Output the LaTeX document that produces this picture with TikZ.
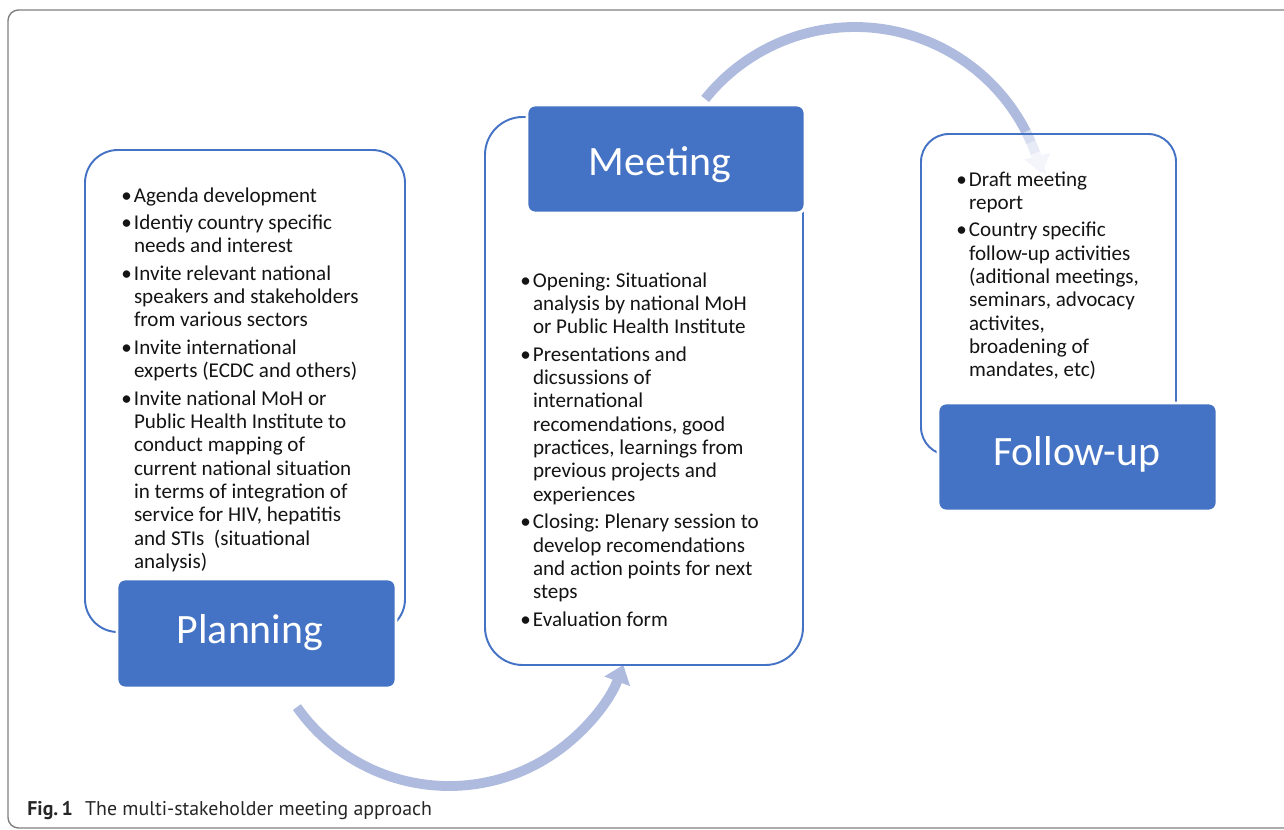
\documentclass[tikz,border=0pt]{standalone}
\usepackage{fontspec}
\setmainfont{Carlito}
\newfontfamily\capfont{PT Sans}
\usepackage{xcolor}
\usetikzlibrary{arrows.meta,fit}

\definecolor{boxblue}{HTML}{4472C4}
\definecolor{flowblue}{HTML}{AEBBDF}
\definecolor{framegray}{HTML}{7F7F7F}

% bullet with a fixed hanging width
\newcommand{\bul}{\makebox[7.2pt][l]{\textbullet}}
\frenchspacing

\begin{document}
\begin{tikzpicture}[x=0.02cm, y=-0.02cm,
    every node/.style={inner sep=0pt},
    stagebox/.style={draw=boxblue, line width=1.1pt},
    stagehead/.style={fill=boxblue, draw=white, line width=1.6pt, rounded corners=4.5pt},
    headtext/.style={anchor=base, text=white, font=\fontsize{23.8}{28}\selectfont},
    items/.style={anchor=base west, text=black!92, font=\fontsize{12}{13.3}\selectfont},
    flow/.style={draw=flowblue, line width=5.6pt},
    flowtip/.style={-{Triangle[width=15pt,length=10pt]}},
]
\useasboundingbox (0,0) rectangle (1284,829);

% outer frame
\draw[framegray, line width=0.8pt, rounded corners=6pt] (8,10) rectangle (1310,828);

% curved arrows between the stages
\coordinate (lowc) at (449,600);
\coordinate (topc) at (855,219);
\draw[flow, flowtip] ([shift={(144.85:186)}]lowc) arc[start angle=144.85, end angle=20.4, radius=186];
\draw[flow] ([shift={(-141.3:192)}]topc) arc[start angle=-141.3, end angle=-27, radius=192];
% the last part fades out
\draw[flow, draw=flowblue!50!white] ([shift={(-27:192)}]topc) arc[start angle=-27, end angle=-23.5, radius=192];
\draw[flow, draw=flowblue!30!white] ([shift={(-23.5:192)}]topc) arc[start angle=-23.5, end angle=-20, radius=192];
\draw[flow, flowtip, draw=flowblue!14!white] ([shift={(-20:192)}]topc) arc[start angle=-20, end angle=-13.8, radius=192];

% stage outlines
\node[stagebox, rounded corners=18.7pt, fit={(85,150) (405,632)}] (planbox) {};
\node[stagebox, rounded corners=21.5pt, fit={(485,117) (803,665)}] (meetbox) {};
\node[stagebox, rounded corners=15.9pt, fit={(921,134) (1176,455)}] (follbox) {};

% stage headers
\node[stagehead, fit={(117,579) (396,688)}] (plan) {};
\node[stagehead, fit={(527,105) (805,213)}] (meet) {};
\node[stagehead, fit={(938,403) (1217,511)}] (foll) {};
\node[headtext] (plantitle) at (250,643) {Planning};
\node[headtext] (meettitle) at (660,175) {Meeting};
\node[headtext] (folltitle) at (1077,465) {Follow-up};

% stage contents
\node[items] (plantext) at (121,202) {\begin{tabular}[t]{@{}l@{}l@{}}
\bul & Agenda development\\[2.3pt]
\bul & Identiy country specific\\
     & needs and interest\\[2.3pt]
\bul & Invite relevant national\\
     & speakers and stakeholders\\
     & from various sectors\\[2.3pt]
\bul & Invite international\\
     & experts (ECDC and others)\\[2.3pt]
\bul & Invite national MoH or\\
     & Public Health Institute to\\
     & conduct mapping of\\
     & current national situation\\
     & in terms of integration of\\
     & service for HIV, hepatitis\\
     & and STIs\ \ (situational\\
     & analysis)
\end{tabular}};

\node[items] (meettext) at (520,287) {\begin{tabular}[t]{@{}l@{}l@{}}
\bul & Opening: Situational\\
     & analysis by national MoH\\
     & or Public Health Institute\\[2.3pt]
\bul & Presentations and\\
     & dicsussions of\\
     & international\\
     & recomendations, good\\
     & practices, learnings from\\
     & previous projects and\\
     & experiences\\[2.3pt]
\bul & Closing: Plenary session to\\
     & develop recomendations\\
     & and action points for next\\
     & steps\\[2.3pt]
\bul & Evaluation form
\end{tabular}};

\node[items] (folltext) at (956,186) {\begin{tabular}[t]{@{}l@{}l@{}}
\bul & Draft meeting\\
     & report\\[2.3pt]
\bul & Country specific\\
     & follow-up activities\\
     & (aditional meetings,\\
     & seminars, advocacy\\
     & activites,\\
     & broadening of\\
     & mandates, etc)
\end{tabular}};

% caption
\node[anchor=base west, text=black!85, font=\capfont\fontsize{11.3}{13}\selectfont] (caption) at (27,815)
    {\textbf{Fig.\,1}\hspace{7pt}The multi-stakeholder meeting approach};

\end{tikzpicture}
\end{document}
